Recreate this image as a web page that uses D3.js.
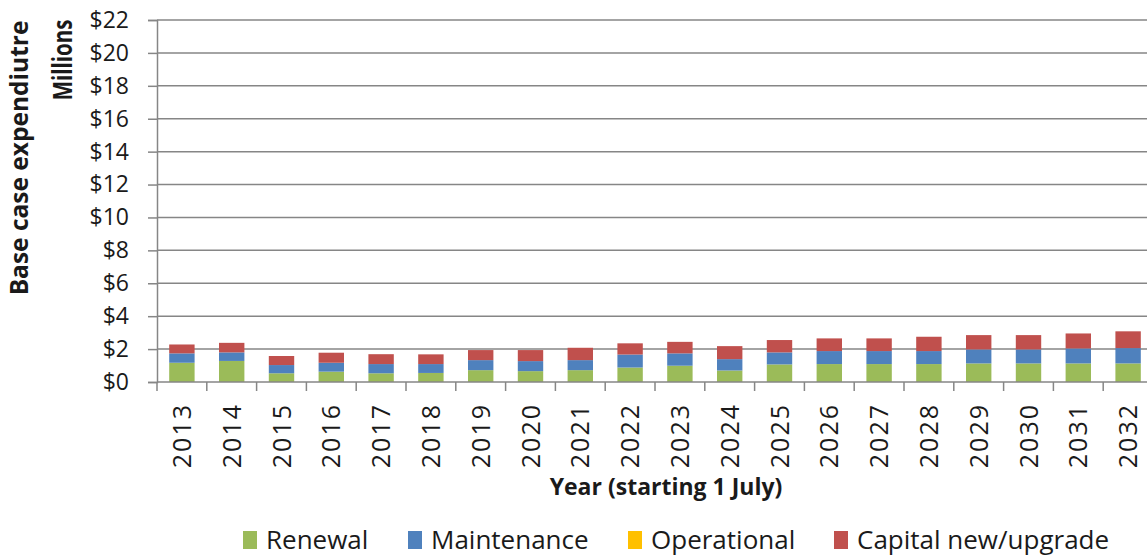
<!DOCTYPE html>
<html>
<head>
<meta charset="utf-8">
<script src="https://cdn.jsdelivr.net/npm/d3@7"></script>
<style>
  html, body { margin: 0; padding: 0; background: #fff; }
  svg { display: block; font-family: "Open Sans", "Noto Sans", sans-serif; }
</style>
</head>
<body>
<div id="chart"></div>
<script>
// values in $ millions
const years = ["2013", "2014", "2015", "2016", "2017", "2018", "2019", "2020", "2021", "2022",
               "2023", "2024", "2025", "2026", "2027", "2028", "2029", "2030", "2031", "2032"];
const renewal     = [1.17, 1.28, 0.53, 0.63, 0.53, 0.55, 0.72, 0.66, 0.72, 0.88,
                     0.99, 0.70, 1.07, 1.09, 1.09, 1.09, 1.13, 1.13, 1.13, 1.13];
const maintenance = [0.57, 0.52, 0.50, 0.54, 0.56, 0.54, 0.61, 0.61, 0.61, 0.79,
                     0.75, 0.69, 0.73, 0.79, 0.79, 0.79, 0.85, 0.85, 0.91, 0.93];
const operational = [0, 0, 0, 0, 0, 0, 0, 0, 0, 0, 0, 0, 0, 0, 0, 0, 0, 0, 0, 0];
const capital     = [0.54, 0.58, 0.55, 0.61, 0.60, 0.59, 0.61, 0.67, 0.75, 0.68,
                     0.70, 0.79, 0.75, 0.77, 0.77, 0.87, 0.87, 0.87, 0.91, 1.02];
const seriesNames = ["Renewal", "Maintenance", "Operational", "Capital new/upgrade"];
const yTicks = [0, 2, 4, 6, 8, 10, 12, 14, 16, 18, 20, 22];

const W = 1147, H = 557;
const M = { top: 20, left: 157, bottom: 382 };
const plotRight = 1153;   // chart runs a bit past the right edge of the picture
const TEXT = "#1a1a1a", AXIS = "#868686";

const colors = d3.scaleOrdinal()
    .domain(seriesNames)
    .range(["#9BBB59", "#4F81BD", "#FFC000", "#C0504D"]);

const table = years.map((yr, i) => ({
    year: yr,
    "Renewal": renewal[i],
    "Maintenance": maintenance[i],
    "Operational": operational[i],
    "Capital new/upgrade": capital[i]
}));
const stacked = d3.stack().keys(seriesNames)(table);

const x = d3.scaleBand().domain(years).range([M.left, plotRight]).paddingInner(0.49).paddingOuter(0.245);
const xEdges = d3.scaleLinear().domain([0, years.length]).range([M.left, plotRight]);
const y = d3.scaleLinear().domain([0, 22]).range([M.bottom, M.top]);

const svg = d3.select("#chart").append("svg")
    .attr("width", W).attr("height", H)
    .attr("viewBox", `0 0 ${W} ${H}`);

// gridlines
svg.append("g").selectAll("line").data(yTicks.filter(d => d > 0)).join("line")
    .attr("x1", M.left).attr("x2", W)
    .attr("y1", d => y(d)).attr("y2", d => y(d))
    .attr("stroke", AXIS).attr("stroke-width", 1.5);

// y axis
const yAxis = svg.append("g").attr("transform", `translate(${M.left},0)`)
    .call(d3.axisLeft(y).tickValues(yTicks).tickSize(9).tickPadding(19)
        .tickFormat(d => "$" + d));
yAxis.select(".domain").attr("stroke", AXIS).attr("stroke-width", 1.5);
yAxis.selectAll(".tick line").attr("stroke", AXIS).attr("stroke-width", 1.5);
yAxis.selectAll("text").attr("font-size", 23).attr("fill", TEXT)
    .attr("font-family", "Open Sans, sans-serif");

// bars
svg.append("g").selectAll("g").data(stacked).join("g")
    .attr("fill", d => colors(d.key))
    .selectAll("rect").data(d => d).join("rect")
    .attr("x", d => x(d.data.year))
    .attr("width", x.bandwidth())
    .attr("y", d => y(d[1]))
    .attr("height", d => y(d[0]) - y(d[1]));

// x axis: baseline, tick marks between categories
svg.append("line")
    .attr("x1", M.left).attr("x2", W)
    .attr("y1", M.bottom).attr("y2", M.bottom)
    .attr("stroke", AXIS).attr("stroke-width", 1.5);
svg.append("g").selectAll("line").data(d3.range(years.length + 1)).join("line")
    .attr("x1", d => xEdges(d)).attr("x2", d => xEdges(d))
    .attr("y1", M.bottom).attr("y2", M.bottom + 9)
    .attr("stroke", AXIS).attr("stroke-width", 1.5);

svg.append("g").selectAll("text").data(years).join("text")
    .attr("transform", d => `translate(${x(d) + x.bandwidth() / 2 + 9},${M.bottom + 21}) rotate(-90)`)
    .attr("text-anchor", "end")
    .attr("font-size", 25).attr("letter-spacing", 2).attr("fill", TEXT)
    .text(d => d);

// axis titles
svg.append("text")
    .attr("transform", `translate(28,158) rotate(-90)`)
    .attr("text-anchor", "middle")
    .attr("font-size", 24.5).attr("font-weight", "bold").attr("fill", TEXT)
    .text("Base case expendiutre");
svg.append("text")
    .attr("transform", `translate(72,60) rotate(-90) scale(1,1.3)`)
    .attr("text-anchor", "middle")
    .attr("font-size", 20.5).attr("font-weight", "bold").attr("fill", TEXT)
    .text("Millions");
svg.append("text")
    .attr("x", 666).attr("y", 495)
    .attr("text-anchor", "middle")
    .attr("font-size", 23).attr("font-weight", "bold").attr("fill", TEXT)
    .text("Year (starting 1 July)");

// legend
const legendX = [243, 408, 628, 834];
const lg = svg.append("g").selectAll("g").data(seriesNames).join("g")
    .attr("transform", (d, i) => `translate(${legendX[i]},549)`);
lg.append("rect").attr("x", 0).attr("y", -18).attr("width", 14).attr("height", 18)
    .attr("fill", d => colors(d));
lg.append("text").attr("x", 23).attr("y", 0)
    .attr("font-size", 26).attr("fill", TEXT)
    .text(d => d);
</script>
</body>
</html>
